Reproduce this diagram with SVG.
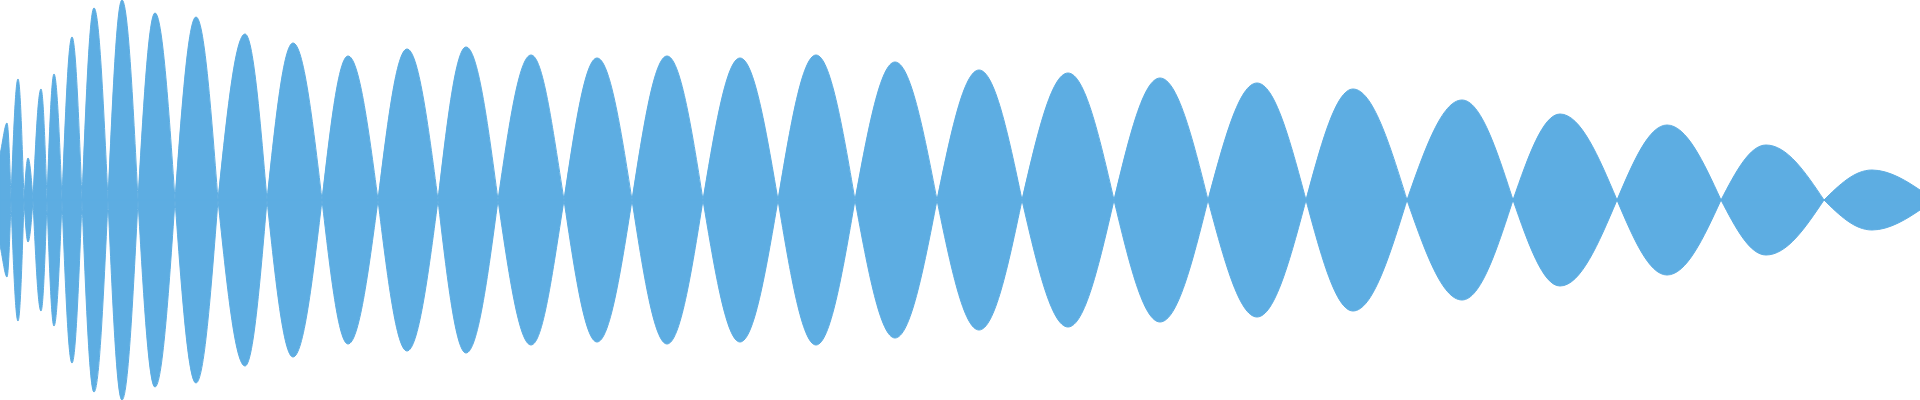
<svg xmlns="http://www.w3.org/2000/svg" xmlns:xlink="http://www.w3.org/1999/xlink" width="1920" height="400" viewBox="0 0 1920 400">
<style>.w{fill:#5dade2;stroke:#5dade2;stroke-width:1}</style>
<rect width="1920" height="400" fill="#ffffff"/>
<defs>
<path id="top" d="M0,200 L0,155 C3,140 5,123 7,123 C8.4,123 9.7,160.6 11,200
C13.3,138 15.5,79 18,79 C20.2,79 22,138 24,200
C25.3,178.5 26.6,158 28,158 C29.8,158 31.4,178.5 33,200
C35.6,143.2 38.1,89 41,89 C43.2,89 45,143.2 47,200
C49.3,135.5 51.5,74 54,74 C56.9,74 59.4,135.5 62,200
C65.3,116.5 68.4,37 72,37 C75.6,37 78.7,116.5 82,200
C85.9,101.7 89.7,8 94,8 C99.1,8 103.4,101.7 108,200
C112.6,97.6 116.9,0 122,0 C127.8,0 132.8,97.6 138,200
C143.5,104.3 148.8,13 155,13 C162.2,13 168.5,104.3 175,200
C181.8,106.3 188.4,17 196,17 C204,17 210.8,106.3 218,200
C226.8,115 235.2,34 245,34 C253,34 259.8,115 267,200
C275.5,119.6 283.6,43 293,43 C303.5,43 312.5,119.6 322,200
C330.5,126.3 338.6,56 348,56 C358.9,56 368.2,126.3 378,200
C387.5,122.7 396.5,49 407,49 C418.2,49 427.9,122.7 438,200
C447.1,121.7 455.9,47 466,47 C477.6,47 487.6,121.7 498,200
C508.8,125.8 519.1,55 531,55 C542.9,55 552.2,125.8 564,200
C574.8,127.3 585.1,58 597,58 C609.7,58 620.6,127.3 632,200
C643.4,126.3 654.3,56 667,56 C680,56 691.3,126.3 703,200
C715.1,127.3 726.6,58 740,58 C753.8,58 765.6,127.3 778,200
C790.4,125.8 802.2,55 816,55 C830.1,55 842.3,125.8 855,200
C868,129.3 880.5,62 895,62 C910.2,62 923.3,129.3 937,200
C950.7,133.4 963.8,70 979,70 C994.6,70 1008,133.4 1022,200
C1037,135 1051.3,73 1068,73 C1084.7,73 1099,135 1114,200
C1129,137.5 1143.3,78 1160,78 C1177.4,78 1192.4,137.5 1208,200
C1224,140.1 1239.3,83 1257,83 C1274.7,83 1290,140.1 1306,200
C1321.3,143.2 1336,89 1353,89 C1372.5,89 1389.4,143.2 1407,200
C1424.9,148.8 1442.1,100 1462,100 C1480.5,100 1496.4,148.8 1513,200
C1528.3,156 1543,114 1560,114 C1580.6,114 1598.4,156 1617,200
C1633.3,161.6 1648.9,125 1667,125 C1686.5,125 1703.4,161.6 1721,200
C1735.7,171.8 1749.7,145 1766,145 C1787,145 1805.1,171.8 1824,200
C1839.6,184.6 1854.6,170 1872,170 C1890,170 1908,182 1920,190 L1920,200 Z"/>
</defs>
<g id="waveform">
<use xlink:href="#top" class="w"/>
<use xlink:href="#top" class="w" transform="translate(0,400) scale(1,-1)"/>
</g>
</svg>
